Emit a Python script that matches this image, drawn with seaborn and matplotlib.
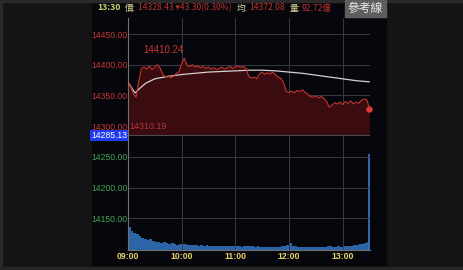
import matplotlib
matplotlib.use("Agg")
import matplotlib.pyplot as plt
import seaborn as sns
from matplotlib.patches import Rectangle

# ---------------- data ----------------
minutes = list(range(0, 271, 3))  # 09:00 .. 13:30, 3-minute samples
price = [14372, 14365, 14352, 14347, 14372, 14394, 14396, 14393, 14398, 14392,
         14396, 14400, 14394, 14384, 14380, 14382, 14379, 14381, 14386, 14388,
         14402, 14410.24, 14399, 14397, 14400, 14396, 14398, 14395, 14397, 14394,
         14396, 14393, 14395, 14392, 14394, 14396, 14393, 14395, 14397, 14394,
         14396, 14398, 14396, 14397, 14394, 14381, 14378, 14380, 14377, 14385,
         14388, 14384, 14387, 14385, 14388, 14383, 14380, 14378, 14370, 14356,
         14355, 14357, 14354, 14358, 14356, 14359, 14355, 14352, 14348, 14347,
         14349, 14346, 14348, 14345, 14340, 14331, 14334, 14338, 14336, 14339,
         14335, 14340, 14337, 14341, 14336, 14339, 14337, 14342, 14344, 14343,
         14328.43]
avg_minutes = [0, 5, 8, 12, 20, 30, 45, 60, 75, 90, 105, 120, 135, 150, 165,
               180, 195, 210, 225, 240, 255, 270]
avg_price = [14372, 14360, 14354, 14360, 14370, 14377, 14381, 14384, 14386,
             14388, 14389, 14390, 14391, 14391, 14390, 14388, 14386, 14383,
             14380, 14377, 14374, 14372.08]
volume = [1.95, 1.65, 1.45, 1.35, 1.15, 1.05, 0.95, 0.85, 0.92, 0.78,
          0.72, 0.66, 0.62, 0.70, 0.58, 0.52, 0.56, 0.48, 0.45, 0.50,
          0.55, 0.48, 0.42, 0.45, 0.40, 0.43, 0.38, 0.40, 0.36, 0.39,
          0.35, 0.37, 0.33, 0.36, 0.32, 0.34, 0.31, 0.33, 0.30, 0.32,
          0.30, 0.31, 0.28, 0.30, 0.33, 0.36, 0.30, 0.28, 0.30, 0.27,
          0.29, 0.26, 0.28, 0.27, 0.25, 0.27, 0.26, 0.30, 0.35, 0.45,
          0.60, 0.38, 0.30, 0.27, 0.28, 0.25, 0.26, 0.24, 0.27, 0.25,
          0.26, 0.24, 0.25, 0.27, 0.30, 0.33, 0.28, 0.27, 0.30, 0.28,
          0.32, 0.35, 0.33, 0.38, 0.42, 0.40, 0.48, 0.52, 0.60, 0.68,
          8.20]
time_ticks = [0, 60, 120, 180, 240]
time_labels = ["09:00", "10:00", "11:00", "12:00", "13:00"]
price_ticks = [14150, 14200, 14250, 14300, 14350, 14400, 14450]
ref_price = 14285.13
high_value = 14410.24
low_value = 14310.19
header_parts = [("13:30", "#cdd46a"), ("價:", "#d8d48e"),
                ("14328.43 ▾43.30(0.30%)", "#c0302c"), ("均:", "#d8d48e"),
                ("14372.08", "#c0302c"), ("量:", "#d8d48e"), ("92.72億", "#c0302c")]

assert len(minutes) == len(price) == len(volume)

# ---------------- layout helpers ----------------
W, H = 464, 270
def fx(px): return px / W
def fy(py): return 1 - py / H

sns.set_theme(style="dark", rc={"axes.facecolor": "none"})
plt.rcParams["font.family"] = ["Liberation Sans", "Noto Sans CJK TC", "DejaVu Sans"]

fig = plt.figure(figsize=(W / 100, H / 100), dpi=100, facecolor="#141414")

# panel background and borders
fig.patches.append(Rectangle((fx(92), fy(266)), fx(386 - 92), (266 - 2) / H,
                             transform=fig.transFigure, color="#06070d", zorder=-5))
fig.patches.append(Rectangle((0, fy(2)), 1, 2 / H, transform=fig.transFigure,
                             color="#2a2a2a", zorder=-5))
fig.patches.append(Rectangle((0, 0), 2 / W, 1, transform=fig.transFigure,
                             color="#2a2a2a", zorder=-5))
fig.patches.append(Rectangle((0, 0), 1, 3 / H, transform=fig.transFigure,
                             color="#262626", zorder=-5))

GRID = "#3a3a42"
RED = "#c8342e"
GREEN = "#3fa34d"

ax = fig.add_axes([fx(128), fy(250), fx(370 - 128), (250 - 18) / H])
ax.set_facecolor("none")
ylo = 14450 - (250 - 34) * 50 / 30.7
yhi = 14450 + (34 - 18) * 50 / 30.7
ax.set_ylim(ylo, yhi)
ax.set_xlim(0, 270.6)

# volume on twin axis
ax2 = ax.twinx()
ax2.set_facecolor("none")
ax2.set_ylim(0, 232 * 0.085)
ax2.fill_between(minutes, volume, 0, step="post", color="#2c64a8", lw=0, zorder=2)
ax2.vlines(minutes[-1], 0, volume[-1], color="#3a7cc8", lw=1.2, zorder=2)
ax2.set_yticks([])
ax2.grid(False)
for s in ax2.spines.values():
    s.set_visible(False)
ax2.set_zorder(1)
ax.set_zorder(2)

# price fill & lines
ax.fill_between(minutes, price, ref_price, color="#3a0c10", lw=0, zorder=1)
ax.axhline(ref_price, color="#4a4a50", lw=0.8, zorder=1)
sns.lineplot(x=minutes, y=price, ax=ax, color=RED, lw=0.8, zorder=4)
sns.lineplot(x=avg_minutes, y=avg_price, ax=ax, color="#d8cfcf", lw=0.9, zorder=3)
ax.plot([minutes[-1]], [price[-1]], "o", color="#e03a36", ms=3.6, zorder=5,
        clip_on=False)
ax.set_xlabel("")
ax.set_ylabel("")

# grid & ticks
ax.set_xticks(time_ticks)
ax.set_xticklabels(time_labels)
ax.set_yticks(price_ticks)
ax.set_yticklabels([f"{v:.2f}" for v in price_ticks])
ax.grid(True, color=GRID, lw=0.7)
ax.set_axisbelow(True)
ax.tick_params(axis="both", length=0, labelsize=6.2)
ax.tick_params(axis="y", pad=0.5)
ax.tick_params(axis="x", pad=1.5)
for lab, v in zip(ax.get_yticklabels(), price_ticks):
    lab.set_color(RED if v > ref_price else GREEN)
for lab in ax.get_xticklabels():
    lab.set_color("#e8d36a")
    lab.set_fontweight("bold")
for side in ["top", "right"]:
    ax.spines[side].set_visible(False)
for side in ["left", "bottom"]:
    ax.spines[side].set_color("#707070")
    ax.spines[side].set_linewidth(0.8)

# annotations
imax = price.index(max(price))
ax.annotate(f"{high_value:.2f}", xy=(minutes[imax], high_value), xytext=(-1, 3),
            textcoords="offset pixels", ha="right", va="bottom", color=RED,
            fontsize=7)
ax.annotate(f"{low_value:.2f}", xy=(0, low_value), xytext=(1, -2),
            textcoords="offset pixels", ha="left", va="top", color="#b03a36",
            fontsize=6.4)
ax.text(-0.004, ref_price, f"{ref_price:.2f}", transform=ax.get_yaxis_transform(),
        ha="right", va="center", color="white", fontsize=6.2, zorder=6,
        bbox=dict(boxstyle="square,pad=0.12", fc="#1f3cf0", ec="none"))

# header, laid out piece after piece
HF = ["Noto Sans CJK TC", "DejaVu Sans"]
renderer = fig.canvas.get_renderer()
xcur = 97.0
hy = fy(8)
for i, (txt, col) in enumerate(header_parts):
    t = fig.text(fx(xcur), hy, txt, color=col, fontsize=6.2, va="center",
                 family=HF, fontweight="bold" if i == 0 else "normal")
    bb = t.get_window_extent(renderer)
    gap = 1.5 if txt.endswith(":") else 5.0
    xcur = bb.x1 + gap

fig.patches.append(Rectangle((fx(345), fy(17)), fx(386 - 345), 17 / H,
                             transform=fig.transFigure, color="#5e5e5e", zorder=1))
fig.text(fx(365.5), fy(8.5), "參考線", color="#eeeeee", fontsize=8.5, ha="center",
         va="center", family=HF)

fig.savefig("out.png", dpi=100, facecolor=fig.get_facecolor())
